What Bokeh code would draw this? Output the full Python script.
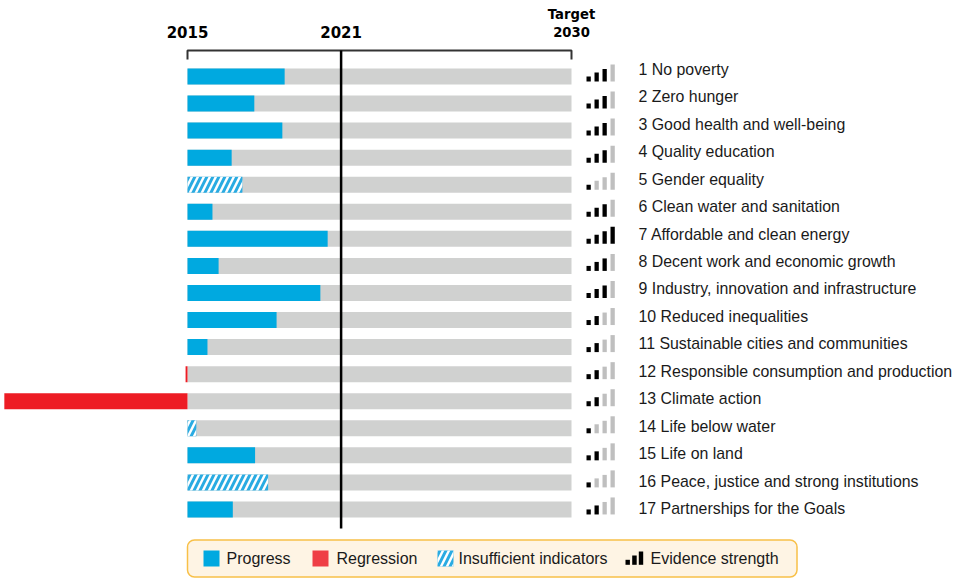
from bokeh.plotting import figure
from bokeh.models import Range1d, BoxAnnotation, ColumnDataSource
from bokeh.core.properties import value
from bokeh.embed import file_html
from bokeh.resources import INLINE

# ---------------- data ----------------
goals = [
    "1 No poverty", "2 Zero hunger", "3 Good health and well-being",
    "4 Quality education", "5 Gender equality", "6 Clean water and sanitation",
    "7 Affordable and clean energy", "8 Decent work and economic growth",
    "9 Industry, innovation and infrastructure", "10 Reduced inequalities",
    "11 Sustainable cities and communities",
    "12 Responsible consumption and production", "13 Climate action",
    "14 Life below water", "15 Life on land",
    "16 Peace, justice and strong institutions", "17 Partnerships for the Goals",
]
# progress towards the 2030 target, % of distance (2015 = 0, 2030 = 100)
progress = [25.3, 17.4, 24.7, 11.5, 14.3, 6.5, 36.5, 8.1, 34.6, 23.2,
            5.2, -0.5, -47.7, 2.3, 17.6, 21.0, 11.8]
status = ["progress", "progress", "progress", "progress", "insufficient",
          "progress", "progress", "progress", "progress", "progress",
          "progress", "regression", "regression", "insufficient", "progress",
          "insufficient", "progress"]
evidence = [3, 3, 3, 3, 1, 3, 4, 3, 3, 2, 2, 2, 2, 1, 2, 1, 2]
years = [2015, 2021, 2030]
legend_labels = ["Progress", "Regression", "Insufficient indicators", "Evidence strength"]

# ---------------- layout helpers ----------------
W, H = 964, 578
X0, XS = 187.0, 3.84      # px of 0 %, px per %
Y1, YS = 76.0, 27.06      # px of row 1, px per row
def sx(px):
    return (px - X0) / XS
def sy(py):
    return 1 + (py - Y1) / YS
def pct(year):
    return (year - years[0]) / (years[-1] - years[0]) * 100.0

BLUE = "#00A9E0"
HATCH_BLUE = "#29ABE2"
RED = "#ED1C24"
GREY = "#D0D1D0"
ICON_GREY = "#BFBFBF"
FONT = "Liberation Sans"

p = figure(width=W, height=H, output_backend="svg", toolbar_location=None,
           x_range=Range1d(sx(0), sx(W)), y_range=Range1d(sy(H), sy(0)),
           x_axis_location=None, y_axis_location=None,
           min_border=0, min_border_left=0, min_border_right=0,
           min_border_top=0, min_border_bottom=0)
p.grid.visible = False
p.outline_line_color = None
p.background_fill_color = "white"
p.border_fill_color = "white"

rows = list(range(1, len(goals) + 1))
bh = 16 / YS

# grey background bars (2015 -> 2030)
p.quad(left=[pct(years[0])] * len(rows), right=[pct(years[-1])] * len(rows),
       top=[r - bh / 2 for r in rows], bottom=[r + bh / 2 for r in rows],
       fill_color=GREY, line_color=None)

def bars(kind):
    idx = [i for i, s in enumerate(status) if s == kind]
    return dict(left=[min(0, progress[i]) for i in idx],
                right=[max(0, progress[i]) for i in idx],
                top=[rows[i] - bh / 2 for i in idx],
                bottom=[rows[i] + bh / 2 for i in idx])

p.quad(source=ColumnDataSource(bars("progress")), left="left", right="right",
       top="top", bottom="bottom", fill_color=BLUE, line_color=None)
p.quad(source=ColumnDataSource(bars("regression")), left="left", right="right",
       top="top", bottom="bottom", fill_color=RED, line_color=None)
p.quad(source=ColumnDataSource(bars("insufficient")), left="left", right="right",
       top="top", bottom="bottom", fill_color=HATCH_BLUE, line_color=None,
       hatch_pattern="/", hatch_color="white", hatch_weight=2.4, hatch_scale=12)

# evidence strength icons
icon_h = [5, 9, 12.5, 17]
il, ir, it, ib, ic = [], [], [], [], []
for i, r in enumerate(rows):
    for k in range(4):
        left = sx(586 + 8 * k)
        il.append(left)
        ir.append(left + 4.3 / XS)
        bottom = r + 5 / YS
        ib.append(bottom)
        it.append(bottom - icon_h[k] / YS)
        ic.append("black" if k < evidence[i] else ICON_GREY)
p.quad(left=il, right=ir, top=it, bottom=ib, fill_color=ic, line_color=None)

# goal labels
label_y = [r + (-7 + 0.375 * (r - 1)) / YS for r in rows]
p.text(x=[sx(638)] * len(rows), y=label_y, text=goals,
       text_font=value(FONT), text_font_size="15.9px", text_color="#1a1a1a",
       text_baseline="middle", text_align="left")

# header: bracket, year labels, 2021 line
p.multi_line(xs=[[pct(years[0]), pct(years[0]), pct(years[-1]), pct(years[-1])]],
             ys=[[sy(59), sy(50), sy(50), sy(59)]], line_color="#333333", line_width=2)
p.segment(x0=[pct(years[1])], x1=[pct(years[1])], y0=[sy(50)], y1=[sy(528)],
          line_color="black", line_width=2.5)
p.text(x=[pct(years[0]), pct(years[1])], y=[sy(31.5), sy(31.5)],
       text=[str(years[0]), str(years[1])],
       text_font=value("DejaVu Sans"), text_font_style="bold", text_font_size="15px",
       text_color="black", text_align="center", text_baseline="middle")
p.text(x=[pct(years[2]), pct(years[2])], y=[sy(13.5), sy(31.5)],
       text=["Target", str(years[2])],
       text_font=value("DejaVu Sans"), text_font_style="bold", text_font_size="13.2px",
       text_color="black", text_align="center", text_baseline="middle")

# legend
ly = 558
box = BoxAnnotation(left=sx(187), right=sx(796.5), top=sy(539.5), bottom=sy(576.5),
                    fill_color="#FEF4E4", fill_alpha=1, line_color="#F8C048",
                    line_width=1.5, line_alpha=1, border_radius=7, level="underlay")
p.add_layout(box)
sq = 16
p.quad(left=[sx(203), sx(312)], right=[sx(203 + sq), sx(312 + sq)],
       top=[sy(ly - sq / 2)] * 2, bottom=[sy(ly + sq / 2)] * 2,
       fill_color=[BLUE, "#EF3E46"], line_color=None)
p.quad(left=[sx(437)], right=[sx(437 + sq)], top=[sy(ly - sq / 2)], bottom=[sy(ly + sq / 2)],
       fill_color=HATCH_BLUE, line_color=None, hatch_pattern="/", hatch_color="white",
       hatch_weight=2.4, hatch_scale=12)
leg_icon_h = [5, 9.3, 13.3]
p.quad(left=[sx(625), sx(631.7), sx(638.3)],
       right=[sx(629.4), sx(636.2), sx(642.7)],
       top=[sy(ly + 6.3 - h) for h in leg_icon_h], bottom=[sy(ly + 6.3)] * 3,
       fill_color="black", line_color=None)
p.text(x=[sx(226), sx(336), sx(458), sx(650)], y=[sy(ly)] * 4, text=legend_labels,
       text_font=value(FONT), text_font_size="16px", text_color="#1a1a1a",
       text_baseline="middle", text_align="left")

open("out.html", "w").write(file_html(p, INLINE))
